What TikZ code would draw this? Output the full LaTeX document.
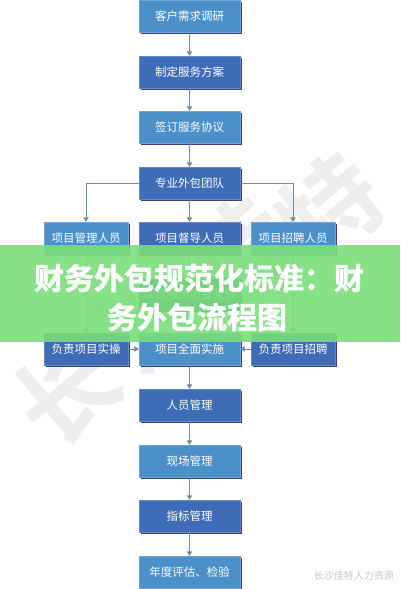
\documentclass[tikz,border=0pt]{standalone}
\usepackage{fontspec}
\newfontfamily\cjk{Noto Sans CJK SC}
\newfontfamily\cjkb{Noto Sans CJK SC Bold}
\newfontfamily\cjkbb[FakeBold=1.6]{Noto Sans CJK SC Bold}
\usetikzlibrary{arrows.meta,shadows}
\definecolor{lightblue}{RGB}{76,144,202}
\definecolor{darkblue}{RGB}{62,108,182}
\definecolor{linecol}{RGB}{112,140,165}
\definecolor{bandgreen}{RGB}{122,222,122}
\definecolor{wmgray}{RGB}{238,238,238}
\tikzset{
  boxbase/.style={rectangle, minimum width=101pt, minimum height=32pt, inner sep=0pt,
    text=white, font=\cjk\fontsize{11.5}{13}\selectfont,
    drop shadow={shadow xshift=1.6pt, shadow yshift=-1.6pt, fill=black!70!blue, opacity=0.75}},
  lbox/.style={boxbase, fill=lightblue, draw=lightblue!80!white, line width=0.4pt},
  dbox/.style={boxbase, fill=darkblue, draw=darkblue!80!white, line width=0.4pt},
  narrow/.style={minimum width=84pt},
  conn/.style={draw=linecol, line width=0.9pt, -{Triangle[length=4.5pt,width=5.5pt]}},
  wm/.style={text=wmgray, font=\cjkb\fontsize{100}{105}\selectfont, rotate=40, inner sep=0pt},
  title/.style={text=white, font=\cjkbb\fontsize{30}{34}\selectfont, inner sep=0pt}
}
\begin{document}
\begin{tikzpicture}[x=1pt,y=-1pt]
\useasboundingbox (0,0) rectangle (400,589);
\fill[white] (0,0) rectangle (400,589);
% watermark
\node[wm] (w1) at (66,392) {长};
\node[wm] (w2) at (152,318) {沙};
\node[wm] (w3) at (240,250) {佳};
\node[wm] (w4) at (330,208) {特};
\node[text=black!22, font=\cjk\fontsize{10}{12}\selectfont, anchor=east, inner sep=0pt] (wb) at (394,576) {长沙佳特人力资源};
% centre column
\node[lbox] (a1) at (189.5,16) {客户需求调研};
\node[dbox] (a2) at (189.5,72) {制定服务方案};
\node[lbox] (a3) at (189.5,127) {签订服务协议};
\node[dbox] (a4) at (189.5,183) {专业外包团队};
\node[lbox,narrow] (l1) at (86,238) {项目管理人员};
\node[dbox] (c1) at (189.5,238) {项目督导人员};
\node[lbox,narrow] (r1) at (293,238) {项目招聘人员};
\node[dbox] (m) at (189.5,294) {项目服务质量监管};
\node[dbox,narrow] (l2) at (86,349) {负责项目实操};
\node[lbox] (c2) at (189.5,349) {项目全面实施};
\node[dbox,narrow] (r2) at (293,349) {负责项目招聘};
\node[dbox] (a5) at (189.5,405) {人员管理};
\node[lbox] (a6) at (189.5,461) {现场管理};
\node[dbox] (a7) at (189.5,516) {指标管理};
\node[lbox] (a8) at (189.5,572) {年度评估、检验};
% connectors
\draw[conn] (a1) -- (a2);
\draw[conn] (a2) -- (a3);
\draw[conn] (a3) -- (a4);
\draw[conn] (a4) -- (c1);
\draw[conn] (a4.west) -| (l1.north);
\draw[conn] (a4.east) -| (r1.north);
\draw[conn] (c1) -- (m);
\draw[conn] (m) -- (c2);
\draw[conn] (l1) -- (l2);
\draw[conn] (r1) -- (r2);
\draw[conn] (l2) -- (c2);
\draw[conn] (r2) -- (c2);
\draw[conn] (c2) -- (a5);
\draw[conn] (a5) -- (a6);
\draw[conn] (a6) -- (a7);
\draw[conn] (a7) -- (a8);
% green band with title
\fill[bandgreen, opacity=0.9] (0,245) rectangle (400,342);
\node[title] (t1) at (199,278) {财务外包规范化标准：财};
\node[title] (t2) at (197,317) {务外包流程图};
\end{tikzpicture}
\end{document}
